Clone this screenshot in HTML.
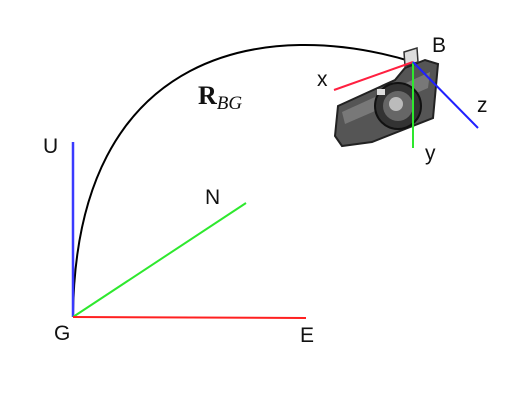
<!DOCTYPE html>
<html><head><meta charset="utf-8"><style>
html,body{margin:0;padding:0;background:#fff;}
svg{display:block;}
text{font-family:"Liberation Sans",sans-serif;font-size:21px;fill:#111;}
</style></head><body>
<svg width="508" height="410" viewBox="0 0 508 410">
  <path d="M73,317 C75,45 270,18 413,62" fill="none" stroke="#000" stroke-width="2"/>
  <line x1="73" y1="317" x2="73" y2="142" stroke="#3a3aff" stroke-width="2.5"/>
  <line x1="73" y1="317" x2="246" y2="203" stroke="#2ee82e" stroke-width="2"/>
  <line x1="73" y1="317" x2="306" y2="318" stroke="#ff2020" stroke-width="2"/>
  <text x="43" y="153">U</text>
  <text x="205" y="204">N</text>
  <text x="54" y="340">G</text>
  <text x="300" y="342">E</text>
  <text x="198" y="104" style="font-family:'Liberation Serif',serif;font-size:26px;font-weight:bold">R<tspan style="font-style:italic;font-weight:normal;font-size:19px" dy="5">BG</tspan></text>
  <g>
    <path d="M338,106 L395,80 L405,68 L425,60 L438,64 L433,118 L372,142 L342,146 L335,136 Z" fill="#555" stroke="#222" stroke-width="2"/>
    <path d="M342,112 L395,88 L430,72 L428,88 L345,124 Z" fill="#888" opacity="0.7"/>
    <path d="M404,52 L417,48 L418,62 L405,66 Z" fill="#ddd" stroke="#333" stroke-width="1.5"/>
    <circle cx="398" cy="106" r="23" fill="#333" stroke="#111" stroke-width="2"/>
    <circle cx="398" cy="106" r="15" fill="#666"/>
    <circle cx="396" cy="104" r="7" fill="#bbb"/>
    <rect x="377" y="89" width="8" height="6" fill="#ddd"/>
  </g>
  <line x1="413" y1="62" x2="334" y2="90" stroke="#ff2040" stroke-width="2"/>
  <line x1="413" y1="62" x2="413" y2="148" stroke="#2ee82e" stroke-width="2"/>
  <line x1="413" y1="62" x2="478" y2="128" stroke="#2020ff" stroke-width="2"/>
  <text x="432" y="52">B</text>
  <text x="317" y="86">x</text>
  <text x="425" y="160">y</text>
  <text x="477" y="112">z</text>
</svg>
</body></html>
